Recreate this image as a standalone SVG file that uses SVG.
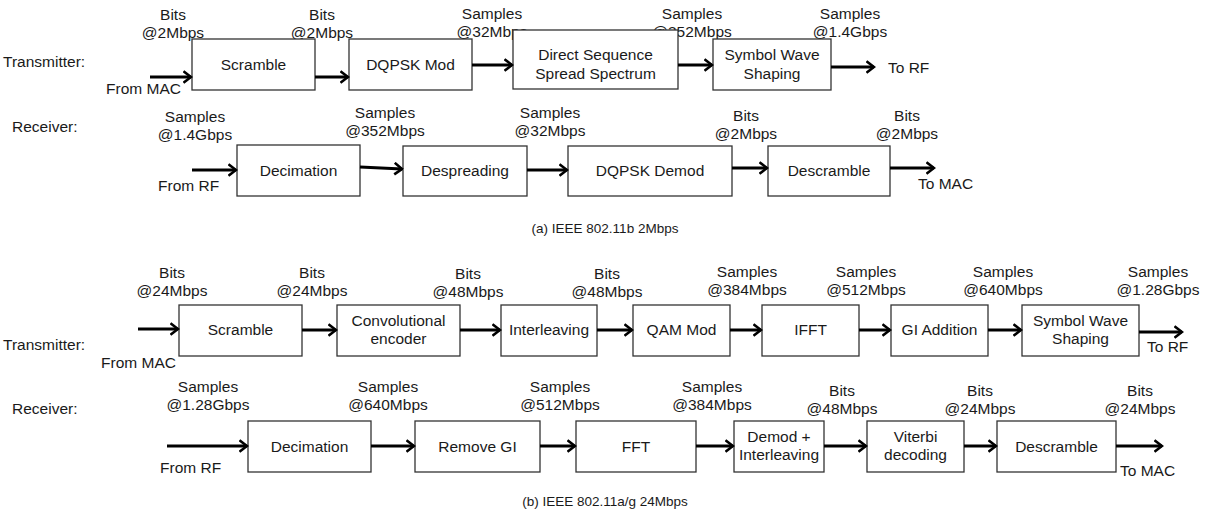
<svg xmlns="http://www.w3.org/2000/svg" width="1209" height="515" viewBox="0 0 1209 515">
<style>
text{font-family:"Liberation Sans",Arial,Helvetica,sans-serif;font-size:15.5px;fill:#1a1a1a}
.c{text-anchor:middle}
.cap{font-size:13.5px}
.box{fill:#fff;stroke:#333;stroke-width:1.3}
.ar{stroke:#000;stroke-width:3;fill:none;marker-end:url(#ah)}
</style>
<defs>
<marker id="ah" viewBox="0 0 10 14" refX="8.5" refY="7" markerWidth="10" markerHeight="14" markerUnits="userSpaceOnUse" orient="auto">
<path d="M1,1.2 L8.5,7 L1,12.8" fill="none" stroke="#000" stroke-width="2.6"/>
</marker>
</defs>
<rect width="1209" height="515" fill="#fff"/>

<g id="labels-a">
<text x="3" y="67">Transmitter:</text>
<text x="106" y="94">From MAC</text>
<text x="888" y="73">To RF</text>
<text x="12" y="132">Receiver:</text>
<text x="158" y="191">From RF</text>
<text x="918" y="189">To MAC</text>
<text class="c" x="173" y="20">Bits</text><text class="c" x="173" y="38">@2Mbps</text>
<text class="c" x="322" y="20">Bits</text><text class="c" x="322" y="38">@2Mbps</text>
<text class="c" x="492" y="19">Samples</text><text class="c" x="492" y="37">@32Mbps</text>
<text class="c" x="692" y="19">Samples</text><text class="c" x="692" y="37">@352Mbps</text>
<text class="c" x="850" y="19">Samples</text><text class="c" x="850" y="37">@1.4Gbps</text>
<text class="c" x="195" y="122">Samples</text><text class="c" x="195" y="140">@1.4Gbps</text>
<text class="c" x="385" y="118">Samples</text><text class="c" x="385" y="136">@352Mbps</text>
<text class="c" x="550" y="118">Samples</text><text class="c" x="550" y="136">@32Mbps</text>
<text class="c" x="746" y="121">Bits</text><text class="c" x="746" y="139">@2Mbps</text>
<text class="c" x="907" y="121">Bits</text><text class="c" x="907" y="139">@2Mbps</text>
<text class="c cap" x="605" y="233">(a) IEEE 802.11b 2Mbps</text>
</g>

<g id="a-tx-scramble"><rect class="box" x="192" y="39" width="123" height="51"/><text class="c" x="253.5" y="70">Scramble</text></g>
<g id="a-tx-dqpsk"><rect class="box" x="349" y="39" width="123" height="51"/><text class="c" x="410.5" y="70">DQPSK Mod</text></g>
<g id="a-tx-dsss"><rect class="box" x="513" y="30" width="165" height="59"/><text class="c" x="595.5" y="60">Direct Sequence</text><text class="c" x="595.5" y="79">Spread Spectrum</text></g>
<g id="a-tx-sws"><rect class="box" x="713" y="39" width="118" height="51"/><text class="c" x="772" y="60">Symbol Wave</text><text class="c" x="772" y="79">Shaping</text></g>

<g id="a-rx-decim"><rect class="box" x="237" y="145" width="123" height="51"/><text class="c" x="298.5" y="176">Decimation</text></g>
<g id="a-rx-despread"><rect class="box" x="403" y="146" width="124" height="50"/><text class="c" x="465" y="176">Despreading</text></g>
<g id="a-rx-demod"><rect class="box" x="568" y="146" width="164" height="50"/><text class="c" x="650" y="176">DQPSK Demod</text></g>
<g id="a-rx-descr"><rect class="box" x="768" y="146" width="122" height="50"/><text class="c" x="829" y="176">Descramble</text></g>

<g id="labels-b">
<text x="3" y="350">Transmitter:</text>
<text x="101" y="368">From MAC</text>
<text x="1147" y="352">To RF</text>
<text x="12" y="414">Receiver:</text>
<text x="160" y="473">From RF</text>
<text x="1120" y="476">To MAC</text>
<text class="c" x="172" y="278">Bits</text><text class="c" x="172" y="296">@24Mbps</text>
<text class="c" x="312" y="278">Bits</text><text class="c" x="312" y="296">@24Mbps</text>
<text class="c" x="468" y="279">Bits</text><text class="c" x="468" y="297">@48Mbps</text>
<text class="c" x="607" y="279">Bits</text><text class="c" x="607" y="297">@48Mbps</text>
<text class="c" x="747" y="277">Samples</text><text class="c" x="747" y="295">@384Mbps</text>
<text class="c" x="866" y="277">Samples</text><text class="c" x="866" y="295">@512Mbps</text>
<text class="c" x="1003" y="277">Samples</text><text class="c" x="1003" y="295">@640Mbps</text>
<text class="c" x="1158" y="277">Samples</text><text class="c" x="1158" y="295">@1.28Gbps</text>
<text class="c" x="208" y="392">Samples</text><text class="c" x="208" y="410">@1.28Gbps</text>
<text class="c" x="388" y="392">Samples</text><text class="c" x="388" y="410">@640Mbps</text>
<text class="c" x="560" y="392">Samples</text><text class="c" x="560" y="410">@512Mbps</text>
<text class="c" x="712" y="392">Samples</text><text class="c" x="712" y="410">@384Mbps</text>
<text class="c" x="842" y="396">Bits</text><text class="c" x="842" y="414">@48Mbps</text>
<text class="c" x="980" y="396">Bits</text><text class="c" x="980" y="414">@24Mbps</text>
<text class="c" x="1140" y="396">Bits</text><text class="c" x="1140" y="414">@24Mbps</text>
<text class="c cap" x="605" y="506">(b) IEEE 802.11a/g 24Mbps</text>
</g>

<g id="b-tx-scramble"><rect class="box" x="179" y="305" width="123" height="51"/><text class="c" x="240.5" y="335">Scramble</text></g>
<g id="b-tx-conv"><rect class="box" x="337" y="305" width="123" height="51"/><text class="c" x="398.5" y="326">Convolutional</text><text class="c" x="398.5" y="344">encoder</text></g>
<g id="b-tx-interl"><rect class="box" x="501" y="305" width="96" height="51"/><text class="c" x="549" y="335">Interleaving</text></g>
<g id="b-tx-qam"><rect class="box" x="633" y="305" width="97" height="51"/><text class="c" x="681.5" y="335">QAM Mod</text></g>
<g id="b-tx-ifft"><rect class="box" x="762" y="305" width="97" height="51"/><text class="c" x="810.5" y="335">IFFT</text></g>
<g id="b-tx-gi"><rect class="box" x="891" y="305" width="97" height="51"/><text class="c" x="939.5" y="335">GI Addition</text></g>
<g id="b-tx-sws"><rect class="box" x="1022" y="305" width="117" height="51"/><text class="c" x="1080.5" y="326">Symbol Wave</text><text class="c" x="1080.5" y="344">Shaping</text></g>

<g id="b-rx-decim"><rect class="box" x="248" y="421" width="123" height="51"/><text class="c" x="309.5" y="452">Decimation</text></g>
<g id="b-rx-rmgi"><rect class="box" x="415" y="421" width="125" height="51"/><text class="c" x="477.5" y="452">Remove GI</text></g>
<g id="b-rx-fft"><rect class="box" x="576" y="421" width="120" height="51"/><text class="c" x="636" y="452">FFT</text></g>
<g id="b-rx-demod"><rect class="box" x="734" y="421" width="90" height="51"/><text class="c" x="779" y="442">Demod +</text><text class="c" x="779" y="460">Interleaving</text></g>
<g id="b-rx-viterbi"><rect class="box" x="867" y="421" width="97" height="51"/><text class="c" x="915.5" y="442">Viterbi</text><text class="c" x="915.5" y="460">decoding</text></g>
<g id="b-rx-descr"><rect class="box" x="997" y="421" width="119" height="51"/><text class="c" x="1056.5" y="452">Descramble</text></g>

<g id="connectors">
<line class="ar" x1="150" y1="77" x2="191" y2="77"/>
<line class="ar" x1="315" y1="77" x2="348" y2="77"/>
<line class="ar" x1="472" y1="65" x2="512" y2="65"/>
<line class="ar" x1="678" y1="65" x2="712" y2="65"/>
<line class="ar" x1="831" y1="67" x2="874" y2="67"/>
<line class="ar" x1="192" y1="170" x2="236" y2="170"/>
<line class="ar" x1="360" y1="167" x2="402" y2="169"/>
<line class="ar" x1="527" y1="170" x2="567" y2="170"/>
<line class="ar" x1="732" y1="168" x2="767" y2="168"/>
<line class="ar" x1="890" y1="168" x2="934" y2="168"/>
<line class="ar" x1="138" y1="329" x2="178" y2="329"/>
<line class="ar" x1="302" y1="330" x2="336" y2="330"/>
<line class="ar" x1="460" y1="330" x2="500" y2="330"/>
<line class="ar" x1="597" y1="330" x2="632" y2="330"/>
<line class="ar" x1="730" y1="330" x2="761" y2="330"/>
<line class="ar" x1="859" y1="330" x2="890" y2="330"/>
<line class="ar" x1="988" y1="330" x2="1021" y2="330"/>
<line class="ar" x1="1139" y1="332" x2="1182" y2="332"/>
<line class="ar" x1="167" y1="446" x2="247" y2="446"/>
<line class="ar" x1="371" y1="446" x2="414" y2="446"/>
<line class="ar" x1="540" y1="446" x2="575" y2="446"/>
<line class="ar" x1="696" y1="446" x2="733" y2="446"/>
<line class="ar" x1="824" y1="446" x2="866" y2="446"/>
<line class="ar" x1="964" y1="446" x2="996" y2="446"/>
<line class="ar" x1="1116" y1="446" x2="1162" y2="446"/>
</g>
</svg>
